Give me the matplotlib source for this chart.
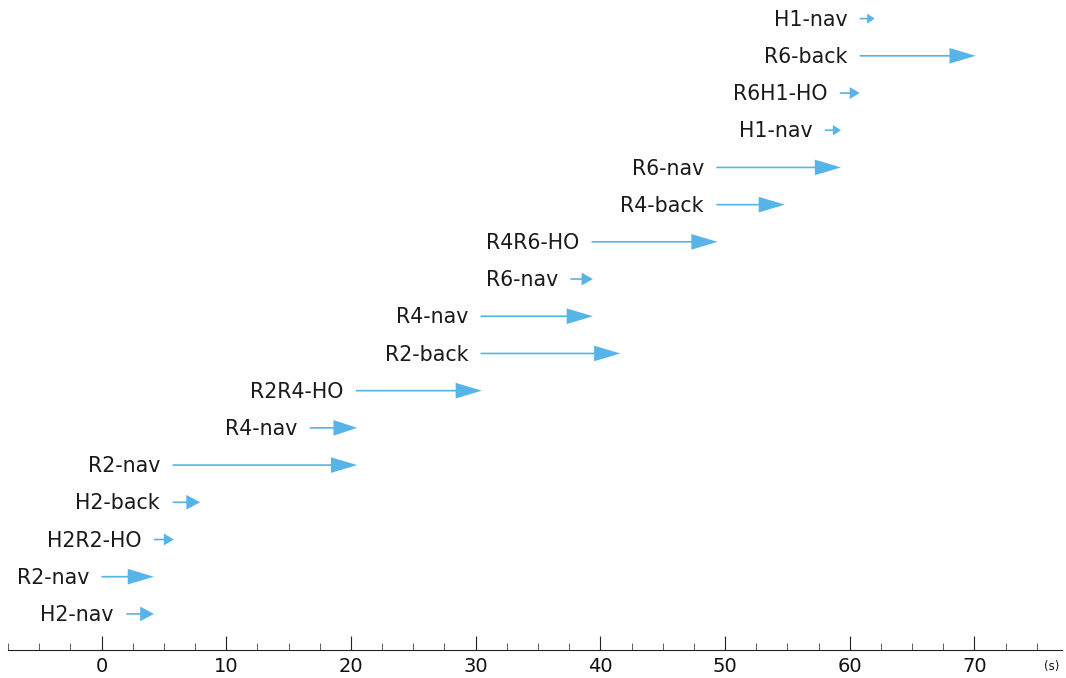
import numpy as np
import matplotlib.pyplot as plt
from matplotlib.ticker import MultipleLocator

# --- Data: one arrow per step, bottom row first ---
labels = ['H2-nav', 'R2-nav', 'H2R2-HO', 'H2-back', 'R2-nav', 'R4-nav',
          'R2R4-HO', 'R2-back', 'R4-nav', 'R6-nav', 'R4R6-HO', 'R4-back',
          'R6-nav', 'H1-nav', 'R6H1-HO', 'R6-back', 'H1-nav']
starts = [2.0, 0.0, 4.2, 5.7, 5.7, 16.7, 20.4, 30.4, 30.4, 37.6, 39.3,
          49.3, 49.3, 58.0, 59.2, 60.8, 60.8]
ends = [4.2, 4.2, 5.8, 7.9, 20.5, 20.5, 30.5, 41.6, 39.4, 39.4, 49.4,
        54.8, 59.3, 59.3, 60.8, 70.1, 62.0]

color = '#56B4E9'

fig = plt.figure(figsize=(10.66, 6.78), dpi=100)
ax = fig.add_axes([0.0075, 0.0413, 0.9885, 0.9587])

for i, (lab, s, e) in enumerate(zip(labels, starts, ends)):
    length = e - s
    head_len = min(2.1, 0.5 * length)
    head_w = min(0.42, 0.25 * head_len + 0.12)
    ax.arrow(s, i, length, 0, width=0.045, head_width=head_w,
             head_length=head_len, length_includes_head=True,
             color=color, lw=0)
    ax.annotate(lab, xy=(s, i - 0.03), xytext=(-9, 0),
                textcoords='offset points', ha='right', va='center',
                fontsize=14.8, color='#1a1a1a')

ax.set_xlim(-7.5, 77)
ax.set_ylim(-0.97, 16.5)

for side in ['left', 'right', 'top']:
    ax.spines[side].set_visible(False)
ax.spines['bottom'].set_color('#222222')
ax.set_yticks([])

ax.xaxis.set_major_locator(MultipleLocator(10))
ax.xaxis.set_minor_locator(MultipleLocator(2.5))
ax.tick_params(axis='x', which='major', direction='in', length=10,
               width=0.8, labelsize=14, pad=5, colors='#222222')
ax.tick_params(axis='x', which='minor', direction='in', length=5,
               width=0.6, colors='#444444')
for t in ax.get_xticklabels():
    t.set_color('#111111')

ax.text(0.998, -0.015, '(s)', transform=ax.transAxes, ha='right', va='top',
        fontsize=8.5, color='#111111')

fig.savefig('out.png', dpi=100)
